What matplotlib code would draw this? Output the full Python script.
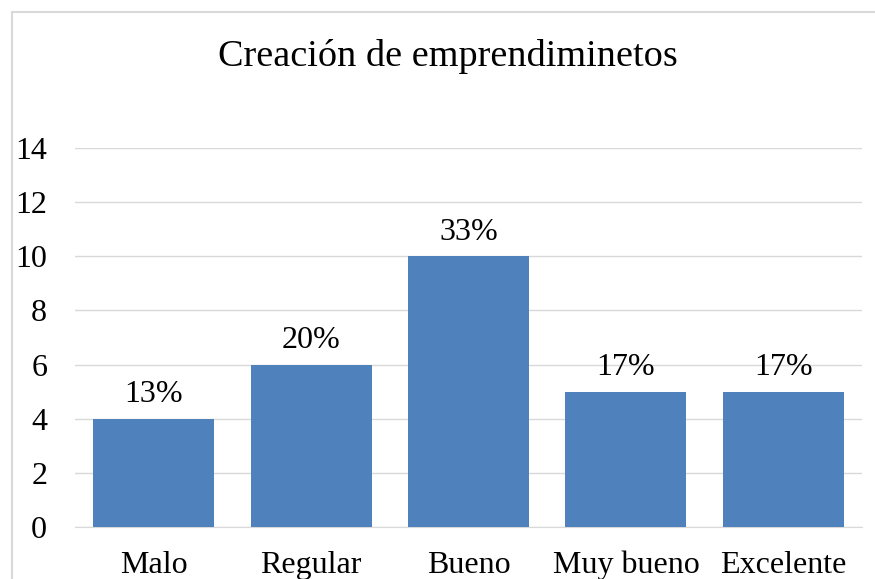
import matplotlib.pyplot as plt
from matplotlib.patches import Rectangle

categories = ["Malo", "Regular", "Bueno", "Muy bueno", "Excelente"]
counts = [4, 6, 10, 5, 5]
labels = ["13%", "20%", "33%", "17%", "17%"]
y_ticks = [0, 2, 4, 6, 8, 10, 12, 14]

plt.rcParams['font.family'] = ['Liberation Serif', 'DejaVu Serif']

fig = plt.figure(figsize=(8.75, 5.79), dpi=100)
# chart border (cut off at right and bottom like the reference)
fig.patches.append(Rectangle((12 / 875, -0.1), 1.2, 1 - 12 / 579 + 0.1,
                             transform=fig.transFigure, fill=False,
                             edgecolor='#D9D9D9', linewidth=1.5))

ax = fig.add_axes([75 / 875, 52 / 579, 787 / 875, 379 / 579])
x = range(len(categories))
bars = ax.bar(x, counts, width=0.77, color='#4F81BD', zorder=3)

for bar, lab in zip(bars, labels):
    ax.text(bar.get_x() + bar.get_width() / 2, bar.get_height() + 0.35, lab,
            ha='center', va='bottom', fontsize=23)

ax.set_xlim(-0.5, len(categories) - 0.5)
ax.set_ylim(0, 14)
ax.set_yticks(y_ticks)
ax.set_xticks(list(x))
ax.set_xticklabels(categories)
ax.tick_params(axis='both', length=0, labelsize=23)
ax.tick_params(axis='y', pad=20)
ax.tick_params(axis='x', pad=17)
ax.grid(axis='y', color='#D9D9D9', linewidth=1, zorder=0)
for s in ['top', 'right', 'left']:
    ax.spines[s].set_visible(False)
ax.spines['bottom'].set_color('#D9D9D9')

fig.text(448 / 875, 1 - 57 / 579, "Creación de emprendiminetos",
         ha='center', va='center', fontsize=27.5)

plt.savefig('out.png', dpi=100)
